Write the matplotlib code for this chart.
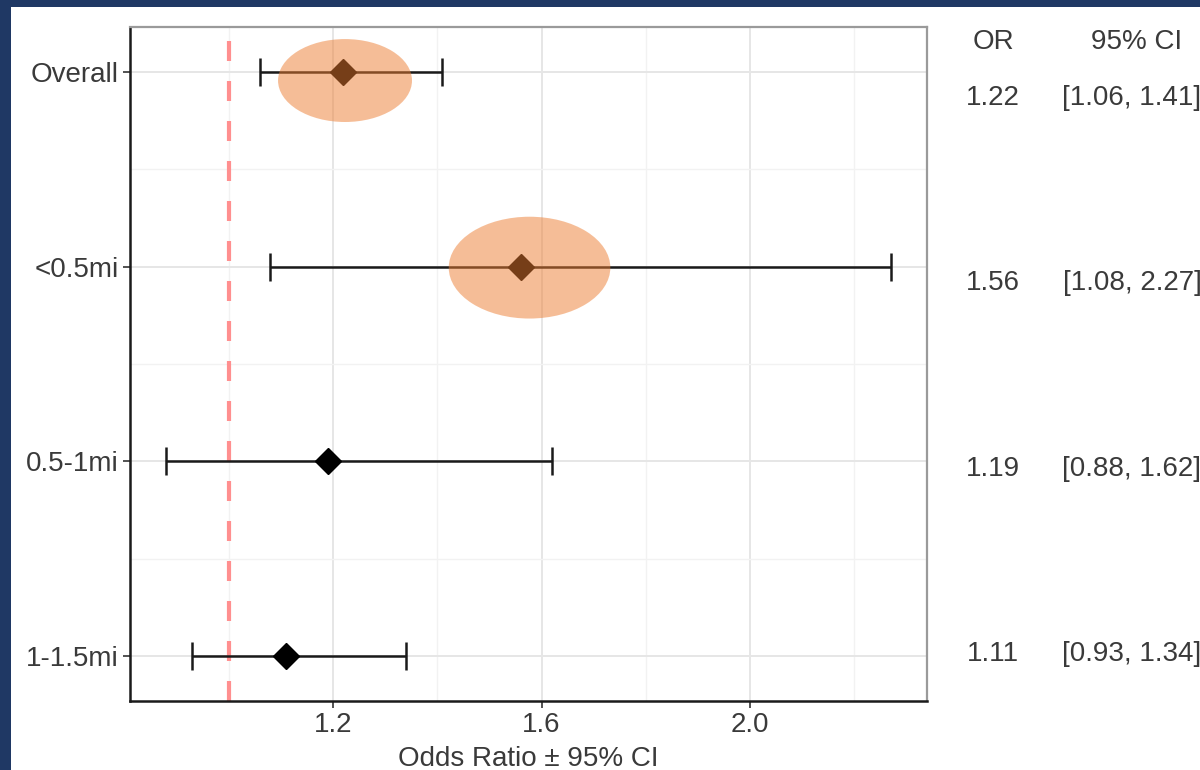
import matplotlib
matplotlib.use('Agg')
import matplotlib.pyplot as plt
from matplotlib.patches import Ellipse, Rectangle

plt.rcParams['font.family'] = ['Liberation Sans', 'DejaVu Sans']
plt.rcParams['lines.scale_dashes'] = False

# odds ratios by distance band
groups = ["Overall", "<0.5mi", "0.5-1mi", "1-1.5mi"]
odds_ratio = [1.22, 1.56, 1.19, 1.11]
ci_low = [1.06, 1.08, 0.88, 0.93]
ci_high = [1.41, 2.27, 1.62, 1.34]

x_major = [1.2, 1.6, 2.0]
x_minor = [1.0, 1.4, 1.8, 2.2]

# groups circled on the chart: (label, x shift, y shift, width, height)
highlights = [
    ("Overall", 0.003, -0.044, 0.257, 0.426),
    ("<0.5mi", 0.017, -0.005, 0.310, 0.523),
]

TEXT = '#3a3a3a'
NAVY = '#1f3864'

W, H = 1200, 770
fig = plt.figure(figsize=(12, 7.7), dpi=100, facecolor=NAVY)
fig.patches.append(Rectangle((11 / W, 0), 1 - 11 / W, 1 - 7 / H,
                             transform=fig.transFigure, facecolor='white',
                             edgecolor='none', zorder=-10))

ax = fig.add_axes([130 / W, 69 / H, 797 / W, 674 / H])
ax.set_zorder(1)
ax.set_facecolor('white')

ypos = list(range(len(groups), 0, -1))
yof = dict(zip(groups, ypos))

# whiskers and diamonds
xerr = [[o - l for o, l in zip(odds_ratio, ci_low)],
        [h - o for o, h in zip(odds_ratio, ci_high)]]
ax.errorbar(odds_ratio, ypos, xerr=xerr, fmt='none', ecolor='#1a1a1a',
            elinewidth=1.8, capsize=10, capthick=1.8, zorder=3)
ax.plot(odds_ratio, ypos, linestyle='none', marker='D', markersize=13,
        color='black', zorder=4)

# reference line at OR = 1
ax.axvline(1.0, color='#ff8f8f', linewidth=3, dashes=(14.4, 14.4), zorder=2)

# orange highlight ellipses
for lab, dx, dy, w, h in highlights:
    i = groups.index(lab)
    ax.add_patch(Ellipse((odds_ratio[i] + dx, yof[lab] + dy), w, h,
                         facecolor='#ed7d31', alpha=0.5, edgecolor='none',
                         zorder=5))

ax.set_xlim(0.8105, 2.3395)
ax.set_ylim(1 - 0.231, len(groups) + 0.231)

ax.set_xticks(x_major)
ax.set_xticklabels([f"{v:.1f}" for v in x_major])
ax.set_xticks(x_minor, minor=True)
ax.set_yticks(ypos)
ax.set_yticklabels(groups)
ax.set_yticks([y + 0.5 for y in ypos[1:]], minor=True)

ax.grid(True, which='major', color='#e6e6e6', linewidth=1.4, zorder=0)
ax.grid(True, which='minor', color='#f2f2f2', linewidth=1.0, zorder=0)
ax.set_axisbelow(True)

ax.tick_params(which='major', length=5, width=1.2, color='#333333',
               labelsize=20, labelcolor=TEXT, pad=3)
ax.tick_params(which='minor', length=0)

for side in ('top', 'right'):
    ax.spines[side].set_color('#9a9a9a')
    ax.spines[side].set_linewidth(1.6)
for side in ('left', 'bottom'):
    ax.spines[side].set_color('#1a1a1a')
    ax.spines[side].set_linewidth(1.8)

ax.set_xlabel("Odds Ratio \u00b1 95% CI", fontsize=20, color=TEXT, labelpad=6)

# OR / CI table on the right
or_x = 993 / W
fig.text(or_x, 1 - 42 / H, "OR", ha='center', va='center', fontsize=20, color=TEXT)
fig.text(1137 / W, 1 - 42 / H, "95% CI", ha='center', va='center', fontsize=20, color=TEXT)
for i in range(len(groups)):
    yy = 1 - (98 + i * 185.3) / H
    fig.text(or_x, yy, f"{odds_ratio[i]:.2f}", ha='center', va='center',
             fontsize=20, color=TEXT)
    fig.text(1132 / W, yy, f"[{ci_low[i]:.2f}, {ci_high[i]:.2f}]", ha='center',
             va='center', fontsize=20, color=TEXT)

fig.savefig('out.png', dpi=100, facecolor=NAVY)
plt.close(fig)
